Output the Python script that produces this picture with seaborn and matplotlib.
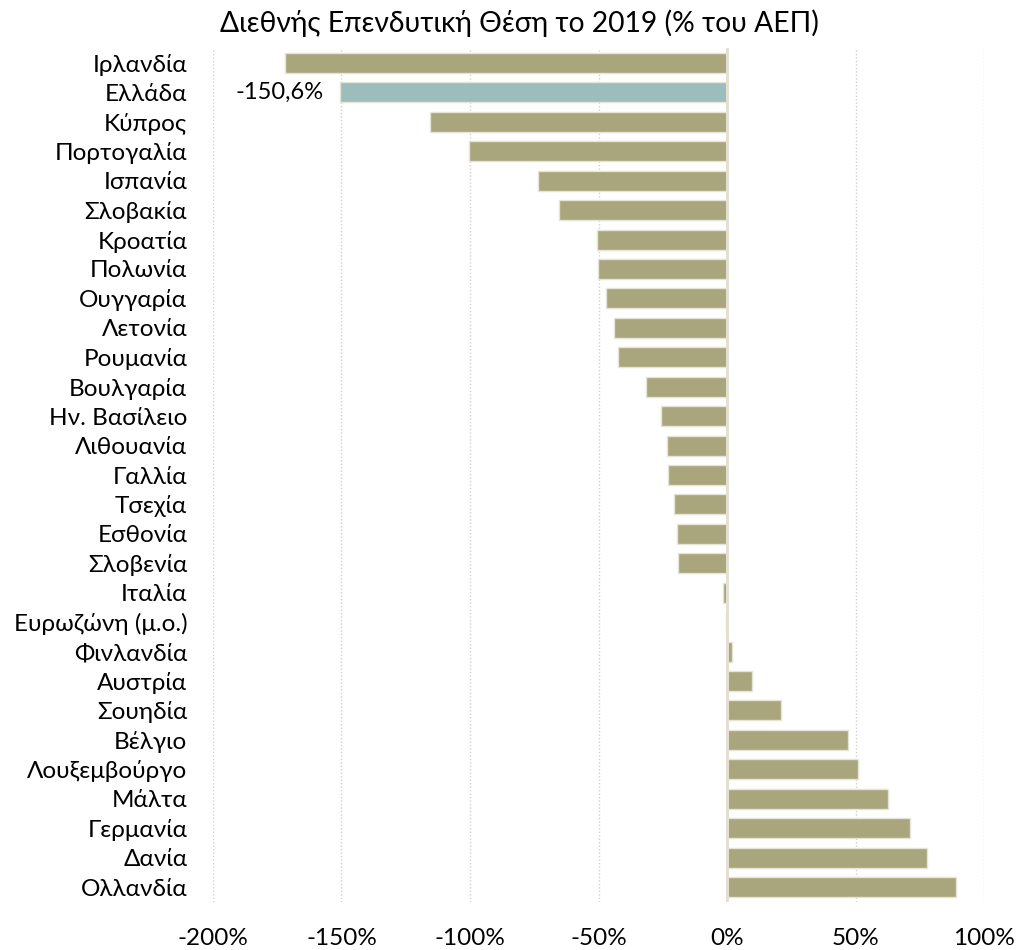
import numpy as np
import pandas as pd
import matplotlib.pyplot as plt
import seaborn as sns
from matplotlib.ticker import FuncFormatter


# data (% of GDP, 2019)
countries = [
    "Ιρλανδία", "Ελλάδα", "Κύπρος", "Πορτογαλία", "Ισπανία", "Σλοβακία",
    "Κροατία", "Πολωνία", "Ουγγαρία", "Λετονία", "Ρουμανία", "Βουλγαρία",
    "Ην. Βασίλειο", "Λιθουανία", "Γαλλία", "Τσεχία", "Εσθονία", "Σλοβενία",
    "Ιταλία", "Ευρωζώνη (μ.ο.)", "Φινλανδία", "Αυστρία", "Σουηδία", "Βέλγιο",
    "Λουξεμβούργο", "Μάλτα", "Γερμανία", "Δανία", "Ολλανδία",
]
niip = [
    -171.8, -150.6, -115.6, -100.4, -73.7, -65.2,
    -50.7, -50.2, -46.9, -43.8, -42.5, -31.4,
    -25.7, -23.5, -23.1, -20.8, -19.5, -19.1,
    -1.4, -0.4, 1.8, 9.7, 21.1, 47.2,
    50.9, 62.8, 71.2, 77.9, 89.2,
]
x_ticks = [-200, -150, -100, -50, 0, 50, 100]

df = pd.DataFrame({"country": countries, "niip": niip})

base_color = "#A9A57C"
greece_color = "#9DBDBC"
palette = {c: (greece_color if c == "Ελλάδα" else base_color) for c in countries}

fonts = ["Lato", "Noto Sans", "DejaVu Sans"]
plt.rcParams["font.family"] = fonts

fig = plt.figure(figsize=(10.19, 9.5), dpi=100)
ax = fig.add_axes([0.209, 0.0508, 0.7567, 0.8984])

sns.barplot(data=df, x="niip", y="country", hue="country", palette=palette,
            legend=False, orient="h", width=0.68, saturation=1, ax=ax,
            edgecolor="#E6E4D6", linewidth=1.0)

ax.set_xlim(-200, 100)
ax.set_xticks(x_ticks)
ax.xaxis.set_major_formatter(FuncFormatter(lambda v, p: f"{v:.0f}%"))
ax.grid(axis="x", color="#D0D0D0", linestyle=(0, (1, 1.5)), linewidth=1.0)
ax.set_axisbelow(True)
ax.axvline(0, color="#E3E0D2", linewidth=2.2, zorder=1.5)

for s in ax.spines.values():
    s.set_visible(False)
ax.tick_params(axis="both", length=0, labelsize=17.5, colors="black")
ax.tick_params(axis="x", pad=19)
ax.tick_params(axis="y", pad=18.5)
ax.set_xlabel("")
ax.set_ylabel("")

# label for Greece
gr_val = niip[countries.index("Ελλάδα")]
ax.text(gr_val - 6.5, countries.index("Ελλάδα"), f"{gr_val:.1f}%".replace(".", ","),
        ha="right", va="center", fontsize=17)

fig.suptitle("Διεθνής Επενδυτική Θέση το 2019 (% του ΑΕΠ)", x=0.51, y=0.99,
             fontsize=20.3, va="top")

plt.savefig("out.png", dpi=100)
